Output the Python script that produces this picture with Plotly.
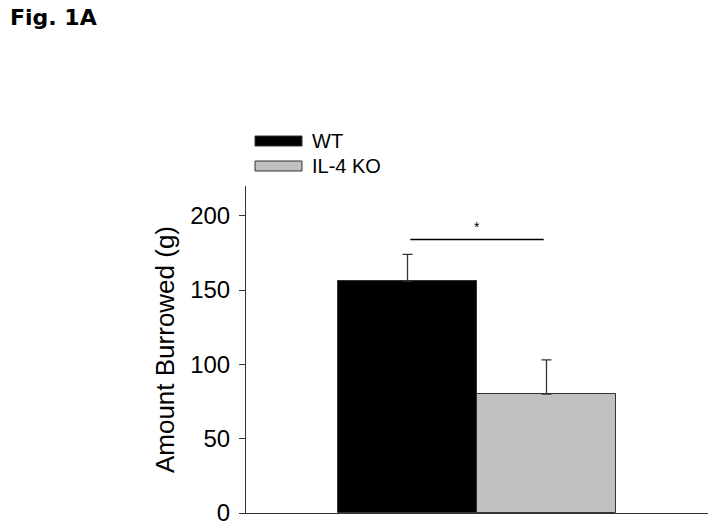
import plotly.graph_objects as go

groups = ["WT", "IL-4 KO"]
means = [156, 80]
sem = [18, 23]
colors = ["#000000", "#c0c0c0"]
sig_label = "*"
sig_y = 184
ytick_vals = [0, 50, 100, 150, 200]

W, H = 714, 524
L, R, T, B = 246, 6, 186, 11
pw, ph = W - L - R, H - T - B

def px(x):
    return (x - L) / pw

def py(y):
    return (H - B - y) / ph

fig = go.Figure()
for i, (g, m, e, c) in enumerate(zip(groups, means, sem, colors)):
    fig.add_trace(go.Bar(
        x=[i + 1], y=[m], width=1, name=g, marker_color=c,
        marker_line=dict(color="#333333", width=1),
        error_y=dict(type="data", symmetric=False, array=[e], arrayminus=[0],
                     color="#333333", thickness=1.3, width=5),
        showlegend=False,
    ))

# significance bar
fig.add_shape(type="line", x0=1.02, x1=1.98, y0=sig_y, y1=sig_y, xref="x", yref="y",
              line=dict(color="black", width=1.5))
fig.add_annotation(x=1.5, y=sig_y, yshift=13, text=sig_label, showarrow=False,
                   font=dict(family="Arial", size=14, color="black"))

# legend drawn manually
legend_rows = [(136, 146), (161, 171)]
for (g, c, (y0, y1)) in zip(groups, colors, legend_rows):
    fig.add_shape(type="rect", xref="paper", yref="paper",
                  x0=px(255), x1=px(302), y0=py(y1), y1=py(y0),
                  fillcolor=c, line=dict(color="#333333", width=1))
    fig.add_annotation(xref="paper", yref="paper", x=px(310), y=py((y0 + y1) / 2),
                       xanchor="left", yanchor="middle", text=g, showarrow=False,
                       font=dict(family="Arial", size=20, color="black"))

# figure label
fig.add_annotation(xref="paper", yref="paper", x=px(8), y=py(17), xanchor="left",
                   yanchor="middle", text="<b>Fig. 1A</b>", showarrow=False,
                   font=dict(family="DejaVu Sans", size=22, color="black"))

fig.update_layout(
    width=W, height=H,
    margin=dict(l=L, r=R, t=T, b=B, autoexpand=False),
    plot_bgcolor="white", paper_bgcolor="white",
    bargap=0,
    xaxis=dict(range=[-0.162, 3.162], showticklabels=False, ticks="", showgrid=False,
               zeroline=False, showline=True, linecolor="#333333", linewidth=1,
               automargin=False),
    yaxis=dict(range=[0, 220], tickvals=ytick_vals, ticks="outside", ticklen=6,
               tickcolor="#333333", showgrid=False, zeroline=False, showline=True,
               linecolor="#333333", linewidth=1, ticklabeloverflow="allow",
               automargin=False, ticklabelstandoff=4,
               tickfont=dict(family="Arial", size=24, color="black"),
               title=dict(text="Amount Burrowed (g)", standoff=8,
                          font=dict(family="Arial", size=26, color="black"))),
)

fig.write_html("out.html", config={"displayModeBar": False},
               post_script="document.body.style.margin='0';document.body.style.overflow='hidden';")
